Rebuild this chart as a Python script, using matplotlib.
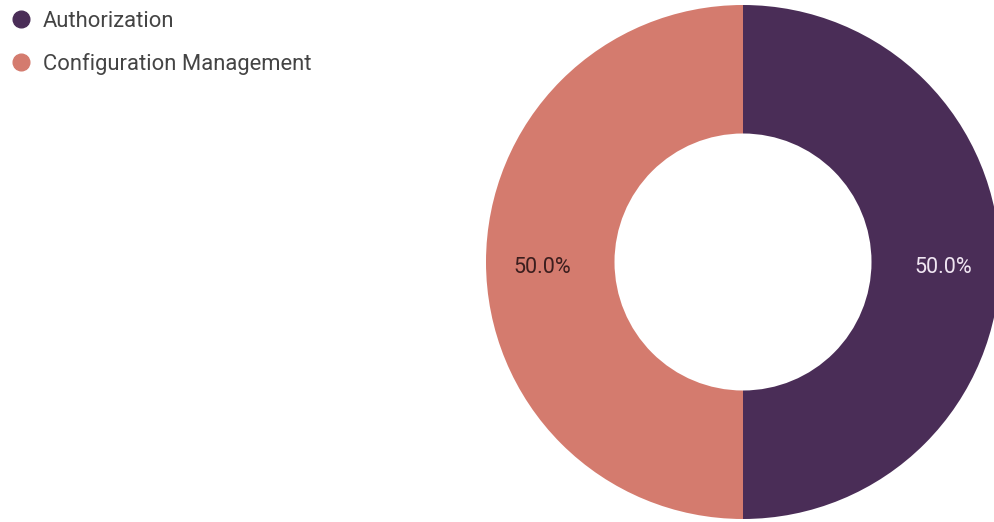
import matplotlib.pyplot as plt
from matplotlib.lines import Line2D

plt.rcParams['font.family'] = ['Roboto', 'DejaVu Sans']

labels = ['Authorization', 'Configuration Management']
values = [50, 50]
colors = ['#4a2d57', '#d47b6e']
label_colors = ['#f0e6f2', '#3b1e1e']

W, H = 994, 522
fig = plt.figure(figsize=(W / 100, H / 100), dpi=100)

# donut centre and radius in pixels
cx, cy, r = 743, 262, 257
ax = fig.add_axes([(cx - r) / W, (H - cy - r) / H, 2 * r / W, 2 * r / H])
wedges, texts, autotexts = ax.pie(values, colors=colors, startangle=90, counterclock=False,
                                  autopct='%1.1f%%', pctdistance=0.78,
                                  wedgeprops=dict(width=0.5, linewidth=0))
for t, c in zip(autotexts, label_colors):
    t.set_color(c)
    t.set_fontsize(15.5)
    x, y = t.get_position()
    t.set_position((x, y - 0.02))
ax.set_xlim(-1, 1)
ax.set_ylim(-1, 1)
ax.axis('off')

handles = [Line2D([], [], marker='o', linestyle='', markersize=12, color=c) for c in colors]
fig.legend(handles, labels, loc='upper left', bbox_to_anchor=(-0.001, 1.004), frameon=False,
           fontsize=15.8, labelcolor='#444444', handletextpad=0.6, labelspacing=0.95,
           borderaxespad=0.2, handlelength=0.8)

fig.savefig('out.png', dpi=100)
